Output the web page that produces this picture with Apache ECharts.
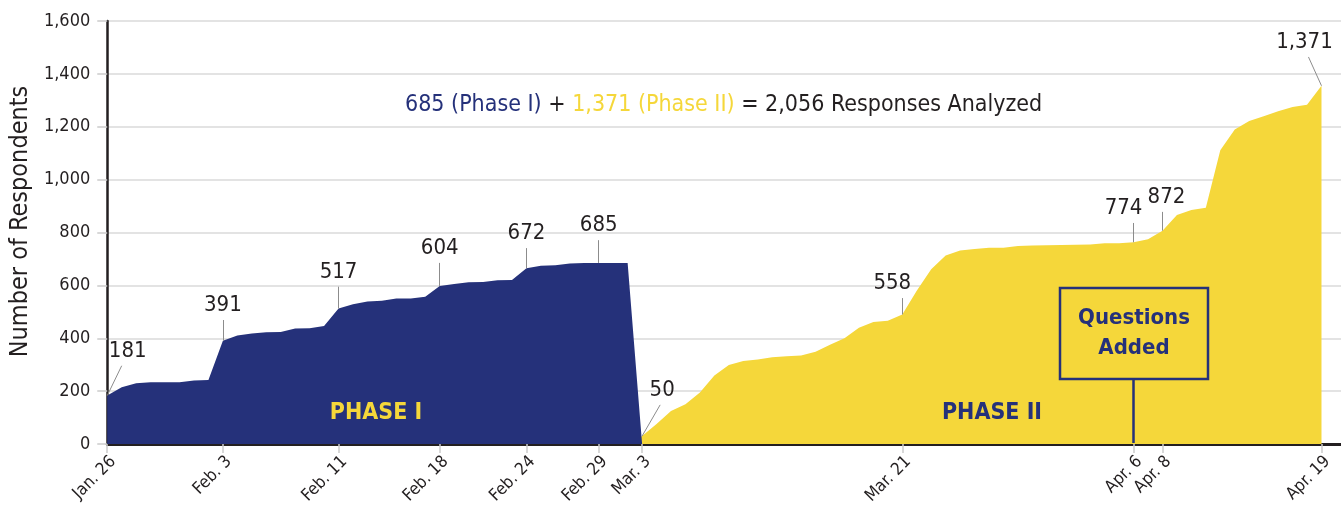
<!DOCTYPE html>
<html>
<head>
<meta charset="utf-8">
<script src="https://cdn.jsdelivr.net/npm/echarts@6/dist/echarts.min.js"></script>
<style>
  html, body { margin: 0; padding: 0; background: #fff; }
  #myChart { width: 1341px; height: 510px; }
</style>
</head>
<body>
<div id="myChart"></div>
<script>
// daily cumulative respondents, day 0 = Jan 26 2020
var phase1Values = [183, 215, 230, 234, 234, 234, 240, 242, 391, 410, 418, 423, 424, 437, 438, 446,
  513, 529, 539, 542, 550, 550, 557, 598, 605, 612, 613, 619, 620, 665, 674, 676, 683, 685, 685, 685, 685, 0];
// phase II starts on day 36 (Mar 2)
var phase2StartDay = 36;
var phase2Values = [0, 30, 76, 125, 150, 195, 259, 299, 314, 320, 328, 332, 335, 349, 375, 400, 440, 461,
  466, 490, 580, 661, 713, 732, 738, 742, 742, 749, 751, 752, 753, 754, 755, 759, 759, 763, 774, 807,
  866, 885, 894, 1111, 1190, 1222, 1240, 1259, 1275, 1283, 1355];

// x axis ticks (days since Jan 26)
var tickDays = [0, 8, 16, 23, 29, 34, 37, 55, 71, 73, 84];
var tickLabels = ["Jan. 26", "Feb. 3", "Feb. 11", "Feb. 18", "Feb. 24", "Feb. 29", "Mar. 3", "Mar. 21", "Apr. 6", "Apr. 8", "Apr. 19"];

// callouts
var noteDays = [0, 8, 16, 23, 29, 34, 37, 55, 71, 73, 84];
var noteLabels = ["181", "391", "517", "604", "672", "685", "50", "558", "774", "872", "1,371"];
// leader line layout (day shift, rise in axis units, label nudge px)
var noteShift = [1.0, 0, 0, 0, 0, 0, 1.25, 0, 0, 0, -0.9];
var noteRise = [113, 78, 82, 87, 76, 86, 118, 62, 73, 71, 109];
var noteNudge = [6, 0, 0, 0, 0, 0, 2, -10, -10, 4, -4];

var NAVY = "#25317a";
var YELLOW = "#f5d73a";
var FONT = "'Liberation Sans Narrow', 'DejaVu Sans Condensed', Roboto, sans-serif";

var phase1Data = phase1Values.map(function (v, i) { return [i, v]; });
var phase2Data = phase2Values.map(function (v, i) { return [phase2StartDay + i, v]; });

function valueAt(day) {
  if (day <= 34) return phase1Values[day];
  return phase2Values[day - phase2StartDay];
}

var leaderLines = [];
var notePoints = [];
noteDays.forEach(function (d, i) {
  var v0 = valueAt(d);
  var end = [d + noteShift[i], v0 + noteRise[i]];
  leaderLines.push([{ coord: [d, v0] }, { coord: end }]);
  notePoints.push({ coord: end, value: noteLabels[i], label: { offset: [noteNudge[i], 0] } });
});

var chartDom = document.getElementById("myChart");
var myChart = echarts.init(chartDom);

var noteLabel = {
  show: true, position: "top", distance: 3,
  fontSize: 22, color: "#231f20", fontFamily: FONT,
  formatter: function (p) { return p.value; }
};

var option = {
  animation: false,
  textStyle: { fontFamily: FONT },
  title: {
    left: 400,
    top: 89,
    text: "{a|685 (Phase I)} + {b|1,371 (Phase II)} = 2,056 Responses Analyzed",
    textStyle: {
      fontFamily: FONT,
      fontSize: 23,
      fontWeight: "normal",
      color: "#231f20",
      rich: {
        a: { color: NAVY, fontSize: 23, fontFamily: FONT },
        b: { color: YELLOW, fontSize: 23, fontFamily: FONT }
      }
    }
  },
  grid: { left: 105, right: 0, top: 21, bottom: 66, containLabel: false },
  xAxis: {
    type: "value",
    min: 0,
    max: 85.35,
    axisLine: { show: true, lineStyle: { color: "#231f20", width: 3 } },
    axisTick: { show: true, customValues: tickDays, length: 9, lineStyle: { color: "#cccccc", width: 1.5 } },
    axisLabel: {
      customValues: tickDays,
      rotate: 45,
      margin: 9,
      verticalAlign: "top",
      fontSize: 17,
      color: "#231f20",
      fontFamily: FONT,
      hideOverlap: false,
      showMinLabel: true,
      formatter: function (v) {
        var i = tickDays.indexOf(Math.round(v));
        return i >= 0 ? tickLabels[i] : "";
      }
    },
    splitLine: { show: false }
  },
  yAxis: {
    type: "value",
    min: 0,
    max: 1600,
    interval: 200,
    name: "Number of Respondents",
    nameLocation: "middle",
    nameGap: 72,
    nameTextStyle: { fontSize: 25, color: "#231f20", fontFamily: FONT, padding: [0, 0, 0, 22] },
    axisLine: { show: true, lineStyle: { color: "#231f20", width: 2.5 } },
    axisTick: { show: true, length: 10, lineStyle: { color: "#cccccc", width: 1.5 } },
    axisLabel: {
      fontSize: 18,
      color: "#231f20",
      fontFamily: FONT,
      margin: 17,
      formatter: function (v) { return v.toLocaleString("en-US"); }
    },
    splitLine: { show: true, lineStyle: { color: "#dadada", width: 1.5 } }
  },
  series: [
    {
      // Phase II area
      name: "Phase II",
      type: "line",
      data: phase2Data,
      symbol: "none",
      lineStyle: { width: 0 },
      areaStyle: { color: YELLOW, opacity: 1 },
      markLine: {
        silent: true,
        symbol: ["none", "none"],
        label: { show: false },
        lineStyle: { color: "#8c8c8c", width: 1, type: "solid" },
        data: leaderLines.slice(6)
      },
      markPoint: {
        symbol: "circle",
        symbolSize: 1,
        itemStyle: { color: "rgba(0,0,0,0)" },
        label: noteLabel,
        data: notePoints.slice(6)
      }
    },
    {
      // Phase I area
      name: "Phase I",
      type: "line",
      data: phase1Data,
      symbol: "none",
      lineStyle: { width: 0 },
      areaStyle: { color: NAVY, opacity: 1 },
      markLine: {
        silent: true,
        symbol: ["none", "none"],
        label: { show: false },
        lineStyle: { color: "#8c8c8c", width: 1, type: "solid" },
        data: leaderLines.slice(0, 6)
      },
      markPoint: {
        symbol: "circle",
        symbolSize: 1,
        itemStyle: { color: "rgba(0,0,0,0)" },
        label: noteLabel,
        data: notePoints.slice(0, 6)
      }
    }
  ],
  graphic: [
    {
      type: "text", x: 376, y: 413, z: 100,
      style: { text: "PHASE I", fill: YELLOW, font: "bold 23px " + FONT, align: "center", verticalAlign: "middle" }
    },
    {
      type: "text", x: 992, y: 413, z: 100,
      style: { text: "PHASE II", fill: NAVY, font: "bold 23px " + FONT, align: "center", verticalAlign: "middle" }
    },
    {
      type: "rect", z: 100,
      shape: { x: 1060, y: 288, width: 148, height: 91 },
      style: { fill: "none", stroke: NAVY, lineWidth: 2.5 }
    },
    {
      type: "line", z: 100,
      shape: { x1: 1133.5, y1: 379, x2: 1133.5, y2: 443 },
      style: { stroke: NAVY, lineWidth: 2.5 }
    },
    {
      type: "text", x: 1134, y: 333, z: 100,
      style: {
        text: "Questions\nAdded", fill: NAVY, font: "bold 22px " + FONT,
        align: "center", verticalAlign: "middle", lineHeight: 30
      }
    }
  ]
};

option && myChart.setOption(option);
</script>
</body>
</html>
